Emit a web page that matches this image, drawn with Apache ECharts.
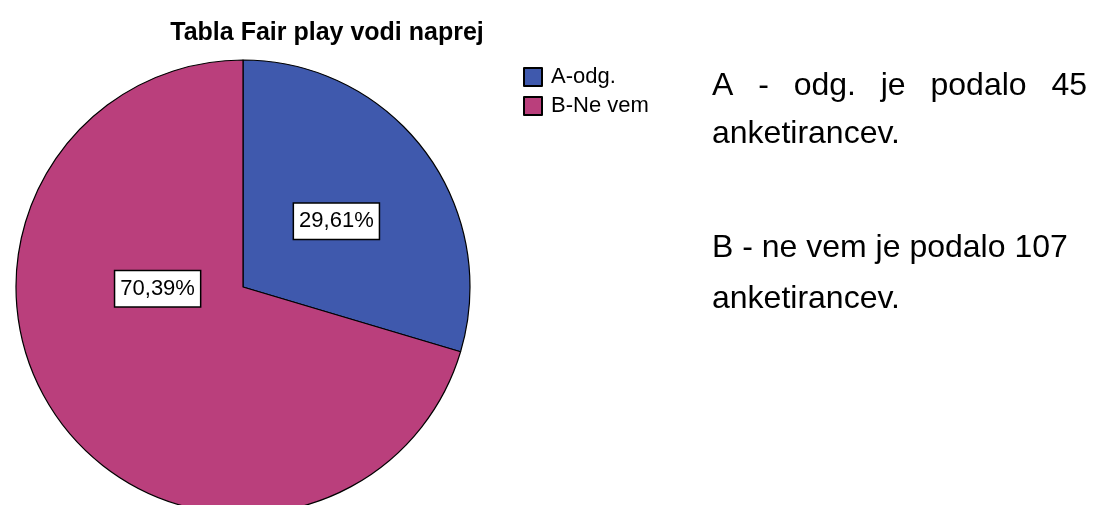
<!DOCTYPE html>
<html>
<head>
<meta charset="utf-8">
<script src="https://cdn.jsdelivr.net/npm/echarts@6/dist/echarts.min.js"></script>
<style>
html,body{margin:0;padding:0;background:#fff;}
#chart{width:1097px;height:505px;}
</style>
</head>
<body>
<div id="chart"></div>
<script>
const titleText = 'Tabla Fair play vodi naprej';
const categories = ['A-odg.', 'B-Ne vem'];
const counts = [45, 107];
const colors = ['#3F59AD', '#BA3F7C'];
const noteLines = [
  'A - odg. je podalo 45',
  'anketirancev.',
  'B - ne vem je podalo 107',
  'anketirancev.'
];
const justifiedLines = [true, false, false, false];

const FONT = "'Liberation Sans', Arial, sans-serif";
const NOTE_FONT = '32px ' + FONT;
const noteBaselines = [95, 143, 257, 308];
const NOTE_LEFT = 712;
const NOTE_RIGHT = 1087;

const chart = echarts.init(document.getElementById('chart'), null, {renderer: 'canvas'});

const pieData = categories.map((c, i) => ({
  name: c,
  value: counts[i],
  itemStyle: {color: colors[i]}
}));

// measure words for the justified line
const ctx = document.createElement('canvas').getContext('2d');
ctx.font = NOTE_FONT;
const noteGraphics = [];
noteLines.forEach((t, i) => {
  const top = noteBaselines[i] - 25;
  if (justifiedLines[i]) {
    const words = t.split(' ');
    const widths = words.map(w => ctx.measureText(w).width);
    const total = widths.reduce((a, b) => a + b, 0);
    const gap = (NOTE_RIGHT - NOTE_LEFT - total) / (words.length - 1);
    let x = NOTE_LEFT;
    words.forEach((w, k) => {
      noteGraphics.push({type: 'text', left: x, top: top, style: {text: w, font: NOTE_FONT, fill: '#000'}});
      x += widths[k] + gap;
    });
  } else {
    noteGraphics.push({type: 'text', left: NOTE_LEFT, top: top, style: {text: t, font: NOTE_FONT, fill: '#000'}});
  }
});

const option = {
  backgroundColor: '#fff',
  animation: false,
  title: {
    text: titleText,
    left: 322,
    top: 16,
    textAlign: 'center',
    textStyle: {fontFamily: FONT, fontWeight: 'bold', fontSize: 25, color: '#000'}
  },
  legend: {
    orient: 'vertical',
    left: 518,
    top: 61,
    icon: 'rect',
    itemWidth: 18,
    itemHeight: 18,
    itemGap: 7,
    selectedMode: false,
    textStyle: {fontFamily: FONT, fontSize: 22, color: '#000', padding: [0,0,0,4]},
    data: categories
  },
  series: [{
    type: 'pie',
    center: [243, 287],
    radius: 227,
    startAngle: 90,
    clockwise: true,
    silent: true,
    percentPrecision: 2,
    itemStyle: {borderColor: '#000', borderWidth: 1.2},
    label: {
      show: true,
      position: 'inside',
      fontFamily: FONT,
      fontSize: 22,
      color: '#000',
      backgroundColor: '#fff',
      borderColor: '#000',
      borderWidth: 1.5,
      padding: [7, 5, 6, 5],
      formatter: p => p.percent.toFixed(2).replace('.', ',') + '%'
    },
    labelLine: {show: false},
    labelLayout: function (params) {
      if (params.dataIndex === 1) {
        return {dx: 8, dy: -68};
      }
      return {dx: 0, dy: 4};
    },
    data: pieData
  }],
  graphic: noteGraphics
};
chart.setOption(option);
</script>
</body>
</html>
